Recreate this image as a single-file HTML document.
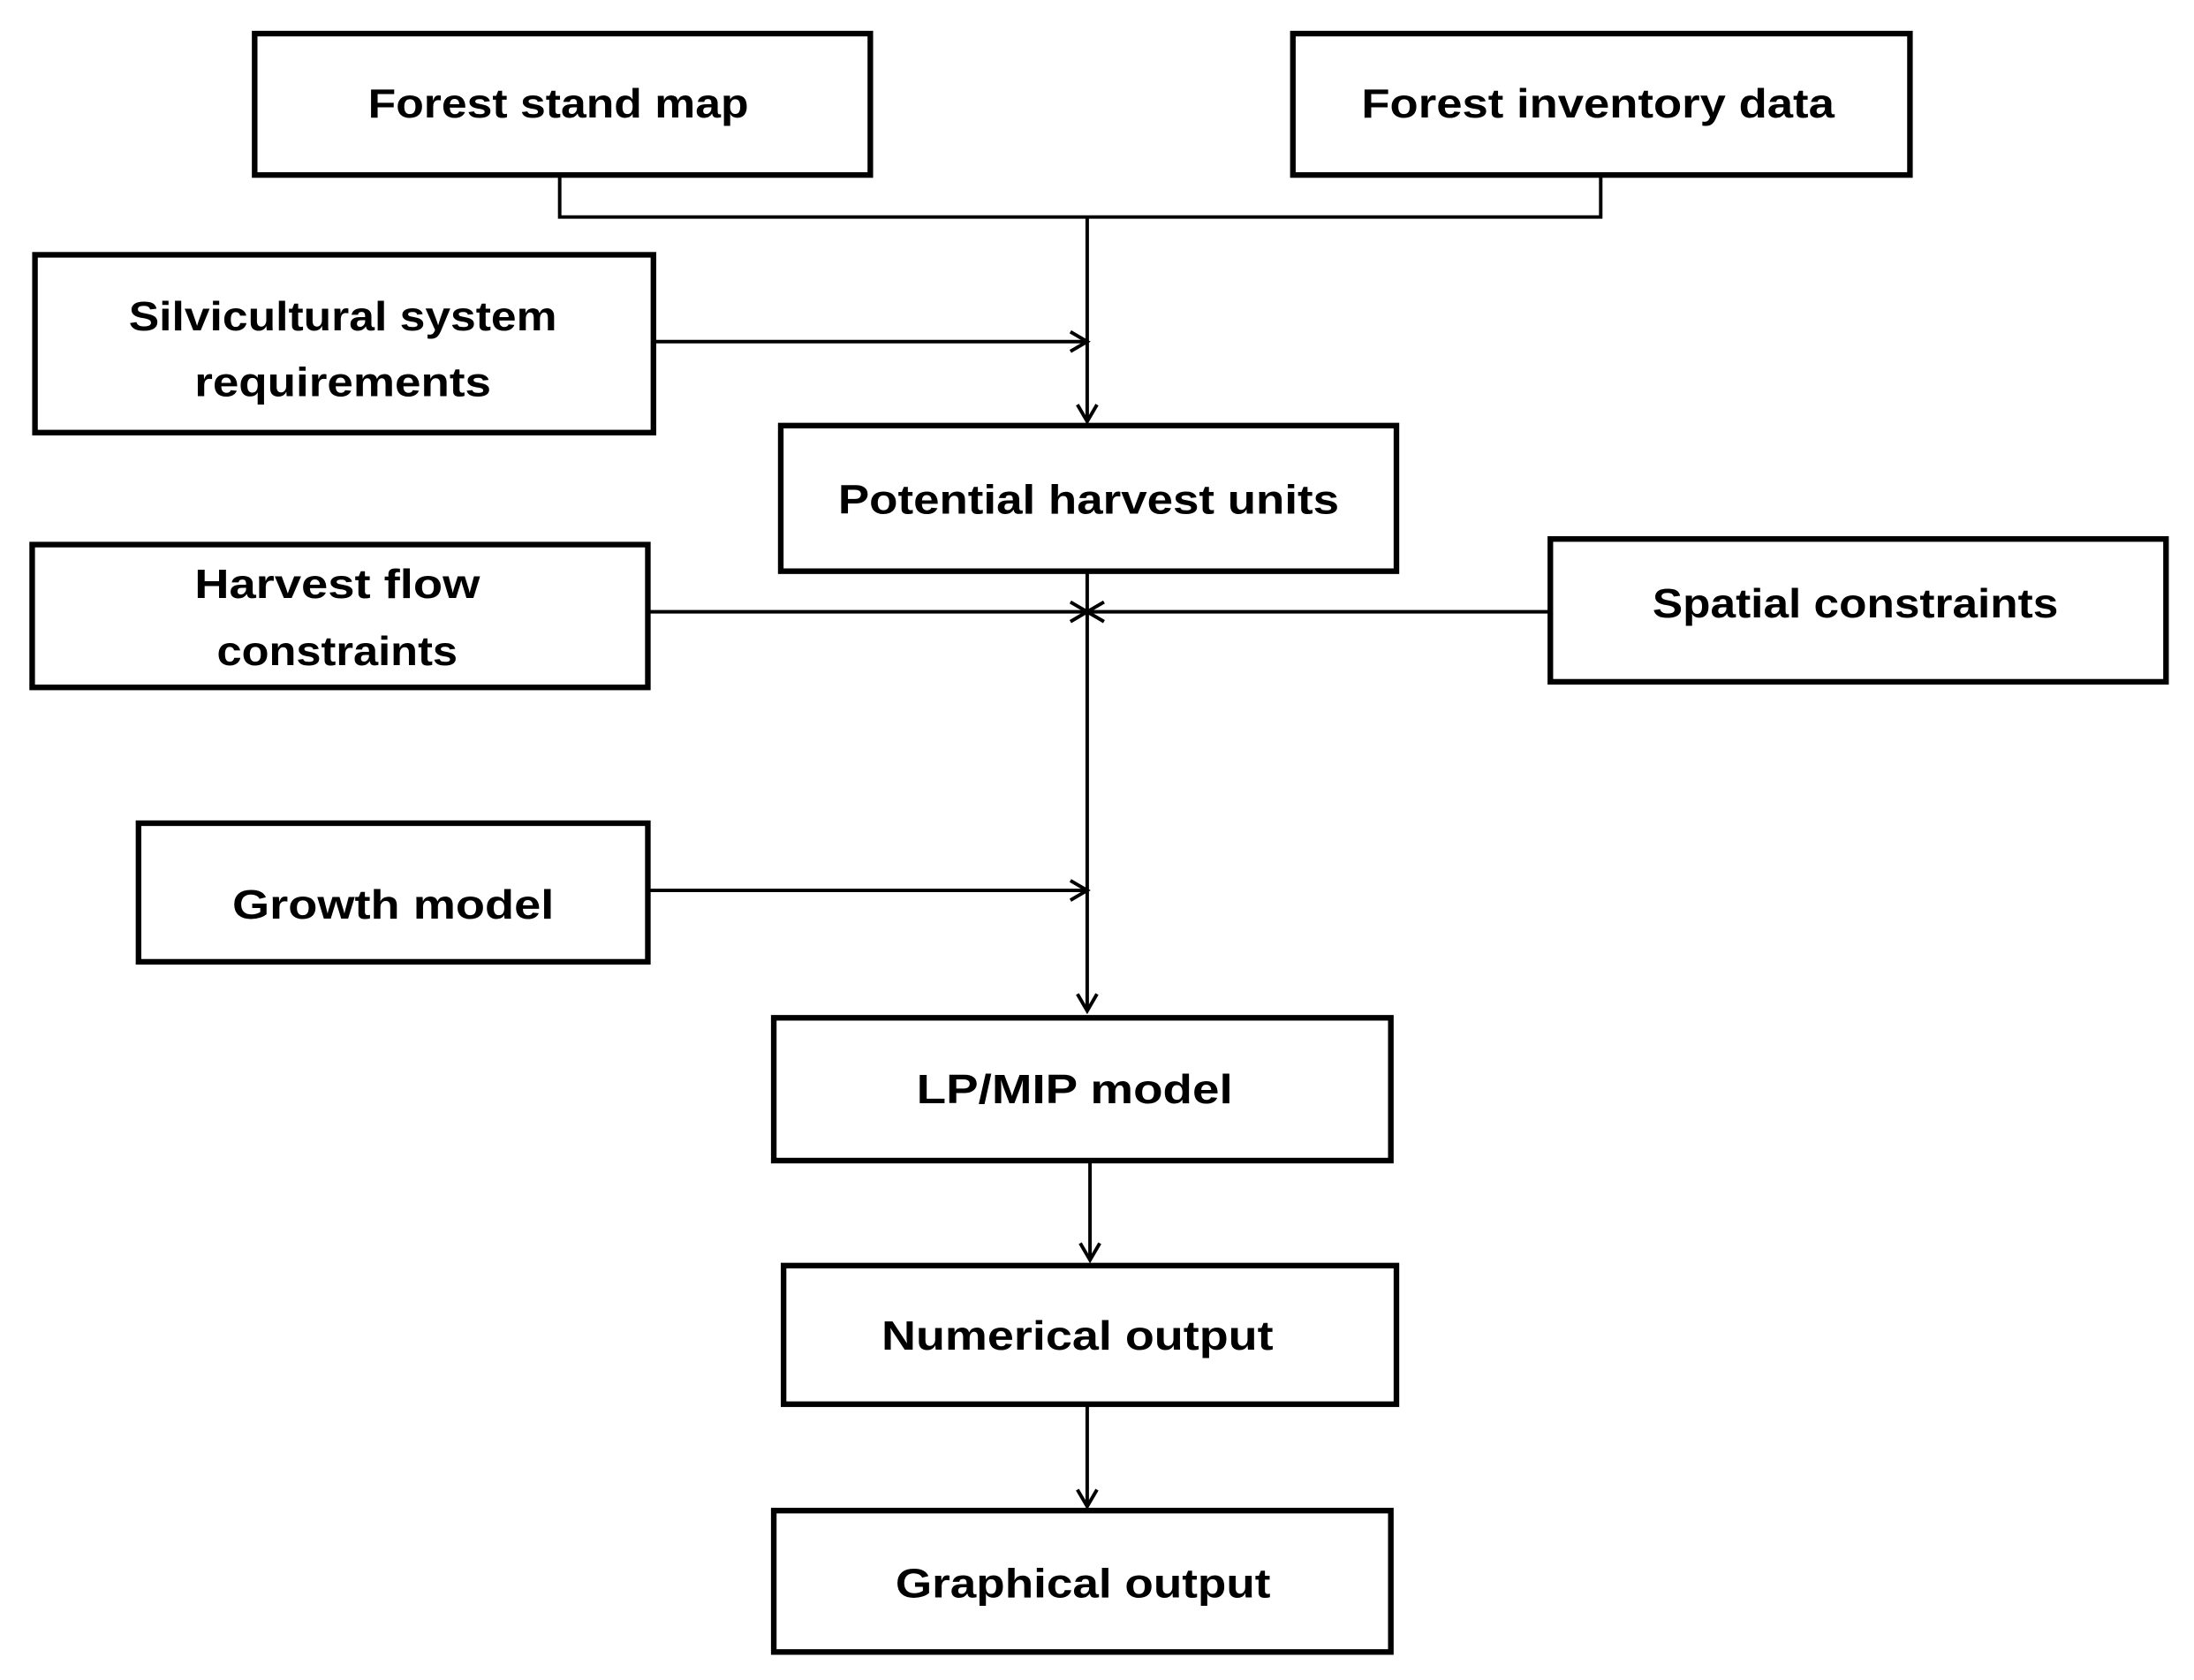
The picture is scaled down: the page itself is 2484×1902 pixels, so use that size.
<!DOCTYPE html>
<html><head><meta charset="utf-8"><style>html,body{margin:0;padding:0;background:#fff}svg{display:block}</style></head>
<body>
<svg width="2484" height="1902" viewBox="0 0 1568 1200" preserveAspectRatio="none" xmlns="http://www.w3.org/2000/svg">
<g fill="#fff" stroke="#000" stroke-width="4">
<rect x="182" y="24" width="440" height="101"/>
<rect x="924" y="24" width="441" height="101"/>
<rect x="25" y="182" width="442" height="127"/>
<rect x="558" y="304" width="440" height="104"/>
<rect x="23" y="389" width="440" height="102"/>
<rect x="1108" y="385" width="440" height="102"/>
<rect x="99" y="588" width="364" height="99"/>
<rect x="553" y="727" width="441" height="102"/>
<rect x="560" y="904" width="438" height="99"/>
<rect x="553" y="1079" width="441" height="101"/>
</g>
<g fill="none" stroke="#000" stroke-width="2.5">
<polyline points="400,125 400,155 1144,155 1144,125"/>
<line x1="777" y1="155" x2="777" y2="300"/>
<line x1="467" y1="244" x2="776" y2="244"/>
<line x1="463" y1="437" x2="776" y2="437"/>
<line x1="1107" y1="437" x2="778" y2="437"/>
<line x1="777" y1="408" x2="777" y2="722"/>
<line x1="463" y1="636" x2="776" y2="636"/>
<line x1="779" y1="829" x2="779" y2="900"/>
<line x1="777" y1="1003" x2="777" y2="1076"/>
<polyline points="770,289 777,301 784,289"/>
<polyline points="765,237 777,244 765,251"/>
<polyline points="765,430 777,437 765,444"/>
<polyline points="789,430 777,437 789,444"/>
<polyline points="765,629 777,636 765,643"/>
<polyline points="770,710 777,722 784,710"/>
<polyline points="772,888 779,900 786,888"/>
<polyline points="770,1064 777,1076 784,1064"/>
</g>
<g font-family="Liberation Sans, sans-serif" font-weight="bold" font-size="29" fill="#000" text-anchor="middle">
<text x="399" y="84" textLength="272" lengthAdjust="spacingAndGlyphs">Forest stand map</text>
<text x="1142" y="84" textLength="338" lengthAdjust="spacingAndGlyphs">Forest inventory data</text>
<text x="245" y="236" textLength="306" lengthAdjust="spacingAndGlyphs">Silvicultural system</text>
<text x="245" y="283" textLength="212" lengthAdjust="spacingAndGlyphs">requirements</text>
<text x="778" y="367" textLength="358" lengthAdjust="spacingAndGlyphs">Potential harvest units</text>
<text x="241" y="427" textLength="204" lengthAdjust="spacingAndGlyphs">Harvest flow</text>
<text x="241" y="475" textLength="172" lengthAdjust="spacingAndGlyphs">constraints</text>
<text x="1326" y="441" textLength="290" lengthAdjust="spacingAndGlyphs">Spatial constraints</text>
<text x="281" y="656" textLength="230" lengthAdjust="spacingAndGlyphs">Growth model</text>
<text x="768" y="788" textLength="226" lengthAdjust="spacingAndGlyphs">LP/MIP model</text>
<text x="770" y="964" textLength="280" lengthAdjust="spacingAndGlyphs">Numerical output</text>
<text x="774" y="1141" textLength="268" lengthAdjust="spacingAndGlyphs">Graphical output</text>
</g>
</svg>
</body></html>
